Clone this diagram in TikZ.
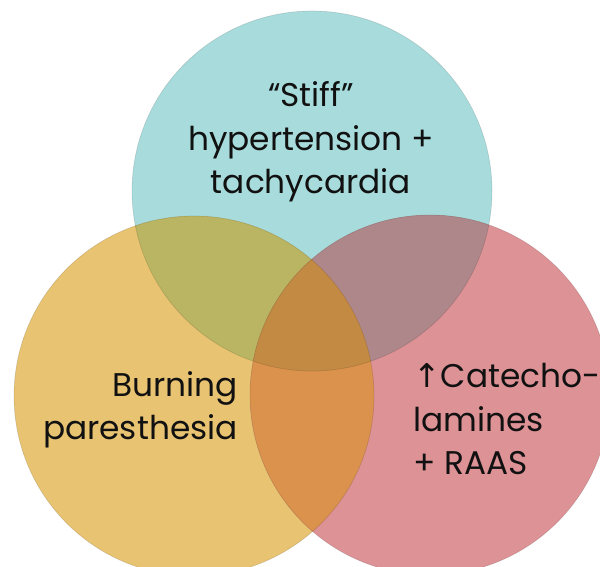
\documentclass[tikz,border=0pt]{standalone}
\usepackage{fontspec}
\setmainfont{Poppins}
\newfontfamily\arrowfont{DejaVu Sans}
\usepackage{xcolor}
\definecolor{teal200}{HTML}{A8DCDC}
\definecolor{amber200}{HTML}{E8C372}
\definecolor{rose200}{HTML}{DD9296}
\definecolor{olive300}{HTML}{B9B562}
\definecolor{mauve300}{HTML}{AD878A}
\definecolor{orange300}{HTML}{DB924C}
\definecolor{bronze400}{HTML}{C38A44}
\definecolor{ink900}{HTML}{111111}
\usepackage{tikz}

\begin{document}
\begin{tikzpicture}[
    x=0.03cm, y=0.03cm,
    text=ink900,
    label/.style={font=\fontsize{28}{37}\selectfont, inner sep=0pt},
    rim/.style={draw=black, draw opacity=0.12, line width=0.6pt},
]
\useasboundingbox (0,0) rectangle (600,566);
\clip (0,0) rectangle (600,566);

% ── Circle centres ──
\coordinate (top) at (312,375);
\coordinate (left) at (194,170);
\coordinate (right) at (430,171);
\def\rad{180}

% ── Single sets ──
\fill[teal200] (top) circle (\rad);
\fill[amber200] (left) circle (\rad);
\fill[rose200] (right) circle (\rad);

% ── Pairwise overlaps ──
\begin{scope}
  \clip (top) circle (\rad);
  \fill[olive300] (left) circle (\rad);
  \fill[mauve300] (right) circle (\rad);
\end{scope}
\begin{scope}
  \clip (left) circle (\rad);
  \fill[orange300] (right) circle (\rad);
\end{scope}

% ── Triple overlap ──
\begin{scope}
  \clip (top) circle (\rad);
  \clip (left) circle (\rad);
  \fill[bronze400] (right) circle (\rad);
\end{scope}

% ── Rims ──
\draw[rim] (top) circle (\rad);
\draw[rim] (left) circle (\rad);
\draw[rim] (right) circle (\rad);

% ── Labels ──
\node[label, align=center] (stiff) at (311,424)
  {``Stiff''\\hypertension +\\tachycardia};
\node[label, align=right, anchor=east] (burn) at (238,156)
  {Burning\\paresthesia};
\node[label, align=left, anchor=west] (cat) at (413,147)
  {{\arrowfont ↑}Catecho-\\lamines\\+ RAAS};
\end{tikzpicture}
\end{document}
